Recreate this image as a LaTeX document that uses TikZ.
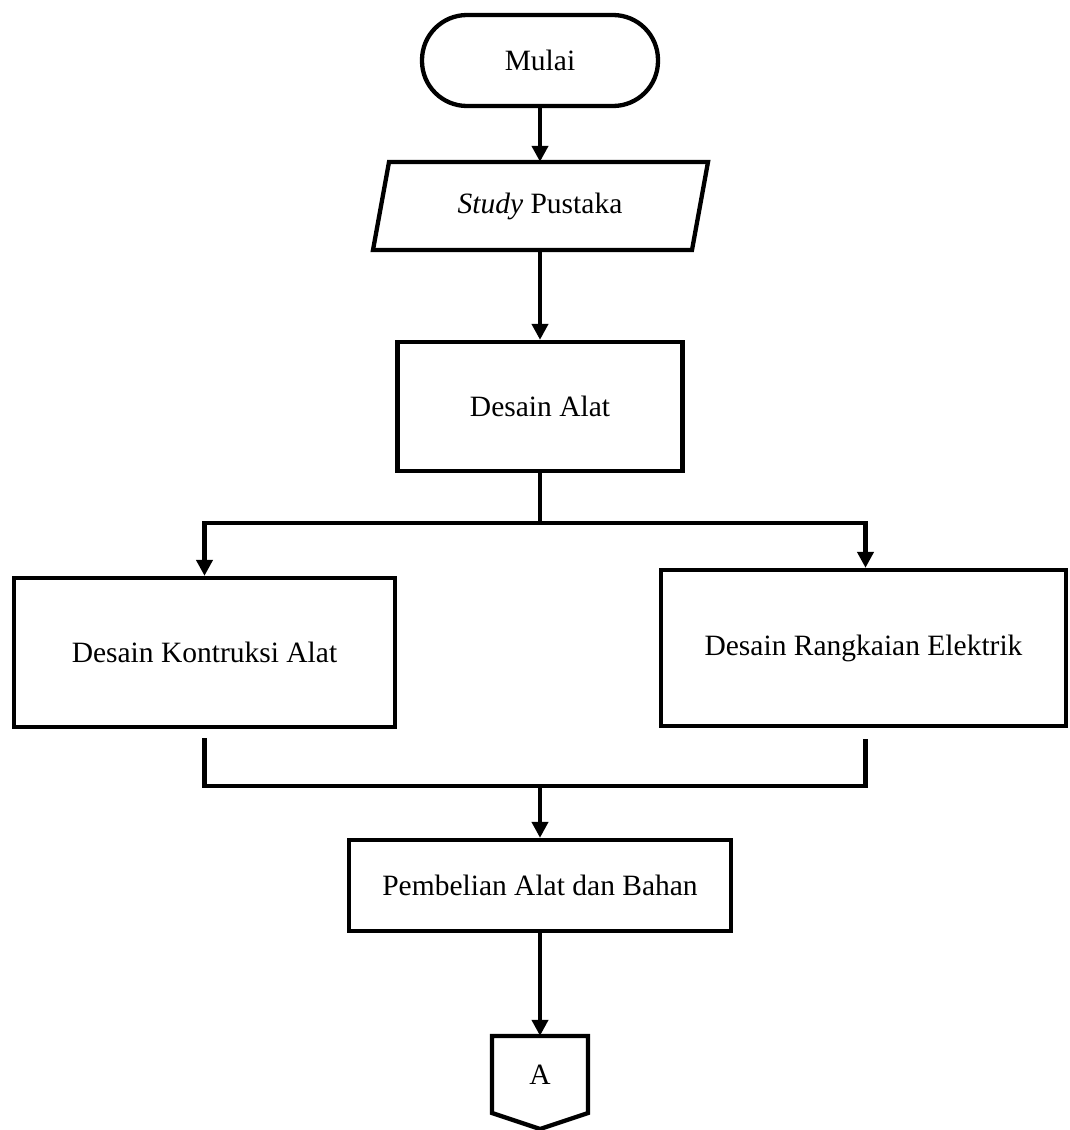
\documentclass[tikz,border=0pt]{standalone}
\usepackage{fontspec}
\setmainfont{Liberation Serif}
\usetikzlibrary{arrows.meta,calc}
\tikzset{
  box/.style={draw, line width=4.3pt, rectangle, inner sep=0pt, font=\fontsize{29.5}{34}\selectfont},
  plain/.style={inner sep=0pt, font=\fontsize{29.5}{34}\selectfont},
  arr/.style={line width=4.3pt, -{Triangle[length=16pt,width=16pt]}},
  ln/.style={line width=4.3pt},
  shp/.style={line width=4.3pt, line join=miter}
}
\begin{document}
\begin{tikzpicture}[x=1pt,y=-1pt]
\useasboundingbox (0,0) rectangle (1070,1130);
% start
\node[box, rounded corners=45pt, minimum width=236pt, minimum height=91pt] (mulai) at (540,60.5) {Mulai};
% study pustaka (parallelogram)
\node[plain, minimum width=320pt, minimum height=88pt] (sp) at (540,206) {\textit{Study} Pustaka};
\draw[shp] (389,162) -- (708,162) -- (692,250) -- (373,250) -- cycle;
% desain alat
\node[box, minimum width=285pt, minimum height=129pt] (da) at (540,406.5) {Desain Alat};
% branches
\node[box, minimum width=381pt, minimum height=149pt] (dk) at (204.5,652.5) {Desain Kontruksi Alat};
\node[box, minimum width=405pt, minimum height=156pt] (dr) at (863.5,648) {Desain Rangkaian Elektrik};
% pembelian
\node[box, minimum width=382pt, minimum height=91pt] (pb) at (540,885.5) {Pembelian Alat dan Bahan};
% off-page connector
\node[plain, minimum width=96pt, minimum height=77pt] (A) at (540,1074.5) {A};
\draw[shp] (492,1036) -- (588,1036) -- (588,1113) -- (540,1129) -- (492,1113) -- cycle;
% coordinates
\coordinate (split) at (540,523);
\coordinate (join) at (540,786);
% connectors
\draw[arr] (mulai.south) -- (sp.north);
\draw[arr] (sp.south) -- (da.north);
\draw[ln] (da.south) -- (split);
\draw[arr] (split) -| (dk.north);
\draw[arr] (split) -| ([xshift=2pt]dr.north);
\draw[ln] ([yshift=-9pt]dk.south) |- (join);
\draw[ln] ([xshift=2pt,yshift=-11pt]dr.south) |- (join);
\draw[arr] (join) -- (pb.north);
\draw[arr] (pb.south) -- (A.north);
\end{tikzpicture}
\end{document}
